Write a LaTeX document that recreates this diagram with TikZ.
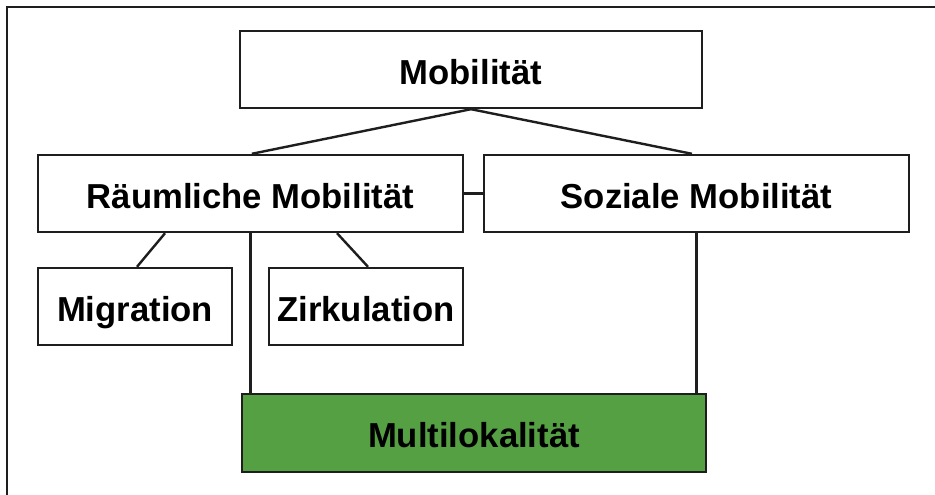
\documentclass[tikz,border=0pt]{standalone}
\usepackage{fontspec}
\setmainfont{Liberation Sans}
\definecolor{boxgreen}{RGB}{86,160,68}
\definecolor{linegray}{RGB}{30,30,30}
\tikzset{
  box/.style={draw=linegray, line width=1.8pt, fill=white, inner sep=0pt,
    font=\fontsize{26}{29}\selectfont\bfseries, text=black,
    text height=22.4pt, text depth=0pt},
  bigbox/.style={box, minimum height=57.75pt},
  conn/.style={draw=linegray, line width=1.8pt},
  frameline/.style={draw=linegray, line width=1.8pt}
}
\begin{document}
\begin{tikzpicture}[x=0.75pt,y=-0.75pt]
\useasboundingbox (0,0) rectangle (935,495);
\fill[white] (0,0) rectangle (935,495);
% outer frame
\coordinate (fbl) at (7,495);
\coordinate (ftl) at (7,7);
\coordinate (ftr) at (935,7);
\draw[frameline] (fbl) -- (ftl) -- (ftr);
% nodes
\node[bigbox, minimum width=346.5pt] (mob) at (471,69.5) {Mobilität};
\node[bigbox, minimum width=318.75pt] (raum) at (250.5,193.5) {Räumliche Mobilität};
\node[bigbox, minimum width=318.75pt] (soz) at (696.5,193.5) {Soziale Mobilität};
\node[bigbox, minimum width=145.5pt] (mig) at (135,306.5) {Migration};
\node[bigbox, minimum width=145.5pt] (zirk) at (366,306.5) {Zirkulation};
\node[bigbox, minimum width=348pt, minimum height=58.5pt, fill=boxgreen] (multi) at (474,433) {Multilokalität};
% connectors
\draw[conn] (mob.south) -- ([xshift=1pt]raum.north);
\draw[conn] (mob.south) -- ([xshift=-3.4pt]soz.north);
\draw[conn] (raum.east) -- (soz.west);
\draw[conn] ([xshift=-64.1pt]raum.south) -- ([xshift=1.5pt]mig.north);
\draw[conn] ([xshift=64.9pt]raum.south) -- ([xshift=1.5pt]zirk.north);
\draw[conn] (raum.south) -- (raum.south |- multi.north);
\draw[conn] (soz.south) -- (soz.south |- multi.north);
\end{tikzpicture}
\end{document}
